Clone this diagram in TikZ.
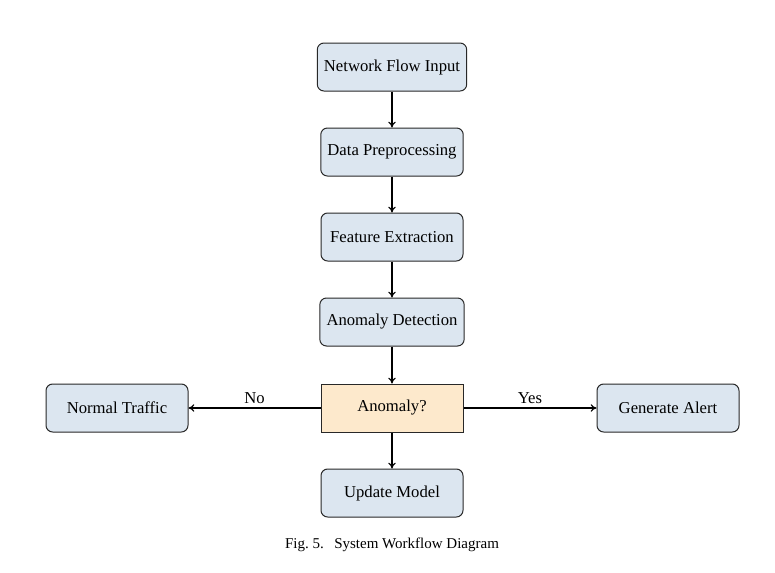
\documentclass[tikz,border=0pt]{standalone}
\usepackage{fontspec}
\setmainfont{Liberation Serif}
\usetikzlibrary{arrows.meta}
\definecolor{boxblue}{RGB}{220,230,240}
\definecolor{boxorange}{RGB}{253,233,204}
\definecolor{boxline}{RGB}{40,40,40}
\begin{document}
\begin{tikzpicture}[x=0.6pt,y=-0.6pt,
  procbox/.style={draw=boxline,line width=0.6pt,fill=boxblue,rounded corners=4pt,
    minimum width=85.2pt,minimum height=28.8pt,inner xsep=4pt,font=\fontsize{10}{12}\selectfont},
  decbox/.style={draw=boxline,line width=0.6pt,fill=boxorange,
    minimum width=85.2pt,minimum height=28.8pt,font=\fontsize{10}{12}\selectfont},
  flow/.style={draw,line width=0.7pt,-{To[length=3.5pt,width=4.5pt]}},
  lbl/.style={font=\fontsize{10}{12}\selectfont,above,inner sep=2pt}]
\useasboundingbox (0,0) rectangle (775,573);
\node[procbox] (nfi) at (392,67) {Network Flow Input};
\node[procbox] (dp) at (392,152) {Data Preprocessing};
\node[procbox] (fe) at (392,237) {Feature Extraction};
\node[procbox] (ad) at (392,322) {Anomaly Detection};
\node[decbox] (an) at (392,408) {Anomaly?};
\node[procbox] (um) at (392,493) {Update Model};
\node[procbox] (nt) at (117,408) {Normal Traffic};
\node[procbox] (ga) at (668,408) {Generate Alert};
\draw[flow] (nfi) -- (dp);
\draw[flow] (dp) -- (fe);
\draw[flow] (fe) -- (ad);
\draw[flow] (ad) -- (an);
\draw[flow] (an) -- (um);
\draw[flow] (an) -- node[lbl] {No} (nt);
\draw[flow] (an) -- node[lbl] {Yes} (ga);
\node[font=\fontsize{9}{11}\selectfont] (cap) at (392,545) {Fig.~5.\hspace{0.7em}System Workflow Diagram};
\end{tikzpicture}
\end{document}
